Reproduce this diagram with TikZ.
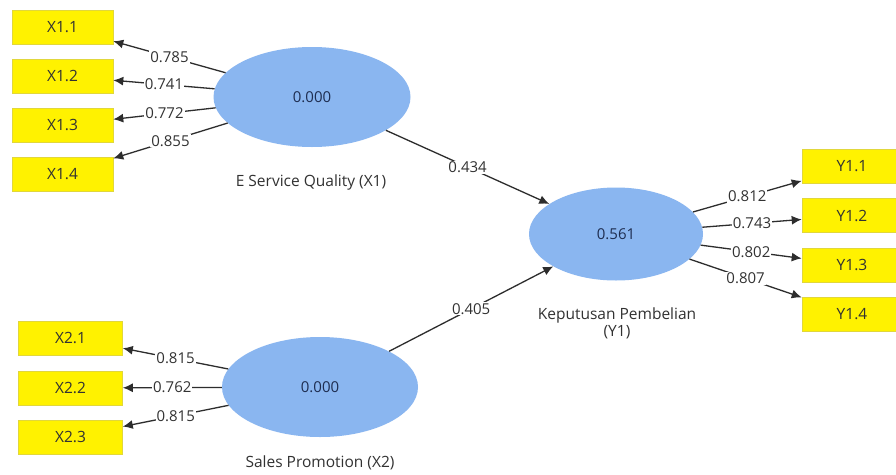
\documentclass[tikz,border=0pt]{standalone}
\usepackage{fontspec}
\setmainfont{Open Sans}
\usetikzlibrary{shapes.geometric,arrows.meta}
\definecolor{boxyellow}{RGB}{255,242,0}
\definecolor{boxedge}{RGB}{225,215,60}
\definecolor{lvblue}{RGB}{138,182,240}
\definecolor{lvtext}{RGB}{30,45,80}
\definecolor{linegray}{RGB}{45,45,45}
\definecolor{txtgray}{RGB}{50,50,50}
\tikzset{
  x=1pt, y=-1pt,
  ind/.style={draw=boxedge, line width=0.6pt, fill=boxyellow, minimum width=101pt, minimum height=34pt, inner sep=0pt, text=txtgray, font=\fontsize{15.5}{17}\selectfont},
  lv/.style={ellipse, fill=lvblue, draw=none, inner sep=0pt, text=lvtext, font=\fontsize{15}{17}\selectfont},
  lvname/.style={text=txtgray, font=\fontsize{15.5}{17}\selectfont, align=center},
  path/.style={draw=linegray, line width=1.3pt, -{Latex[length=10pt,width=9pt]}},
  wt/.style={fill=white, inner sep=1pt, text=txtgray, font=\fontsize{15}{17}\selectfont, midway},
}
\begin{document}
\begin{tikzpicture}
\clip (0,0) rectangle (896,474);
\fill[white] (0,0) rectangle (896,474);
% latent variables
\node[lv, minimum width=197pt, minimum height=100pt] (X1) at (312,97) {0.000};
\node[lv, minimum width=196pt, minimum height=100pt] (X2) at (320,387) {0.000};
\node[lv, minimum width=174pt, minimum height=93pt] (Y1) at (616,234) {0.561};
\node[lvname] (X1n) at (311,182) {E Service Quality (X1)};
\node[lvname] (X2n) at (320,463) {Sales Promotion (X2)};
\node[lvname, font=\fontsize{15.5}{17}\selectfont] (Y1n) at (617,323) {Keputusan Pembelian\\(Y1)};
% indicators
\node[ind] (x11) at (62.5,27) {X1.1};
\node[ind] (x12) at (62.5,76) {X1.2};
\node[ind] (x13) at (62.5,125) {X1.3};
\node[ind] (x14) at (62.5,174) {X1.4};
\node[ind, minimum width=104pt] (x21) at (70.5,338) {X2.1};
\node[ind, minimum width=104pt] (x22) at (70.5,388) {X2.2};
\node[ind, minimum width=104pt] (x23) at (70.5,437) {X2.3};
\node[ind, minimum width=100pt] (y11) at (852,166.5) {Y1.1};
\node[ind, minimum width=100pt] (y12) at (852,215.5) {Y1.2};
\node[ind, minimum width=100pt] (y13) at (852,265) {Y1.3};
\node[ind, minimum width=100pt] (y14) at (852,314.5) {Y1.4};
% outer loadings
\draw[path] (X1) -- node[wt] {0.785} (x11);
\draw[path] (X1) -- node[wt] {0.741} (x12);
\draw[path] (X1) -- node[wt] {0.772} (x13);
\draw[path] (X1) -- node[wt] {0.855} (x14);
\draw[path] (X2) -- node[wt] {0.815} (x21);
\draw[path] (X2) -- node[wt] {0.762} (x22);
\draw[path] (X2) -- node[wt] {0.815} (x23);
\draw[path] (Y1) -- node[wt] {0.812} (y11);
\draw[path] (Y1) -- node[wt] {0.743} (y12);
\draw[path] (Y1) -- node[wt] {0.802} (y13);
\draw[path] (Y1) -- node[wt] {0.807} (y14);
% path coefficients
\draw[path] (X1) -- node[wt] {0.434} (Y1);
\draw[path] (X2) -- node[wt] {0.405} (Y1);
\end{tikzpicture}
\end{document}
